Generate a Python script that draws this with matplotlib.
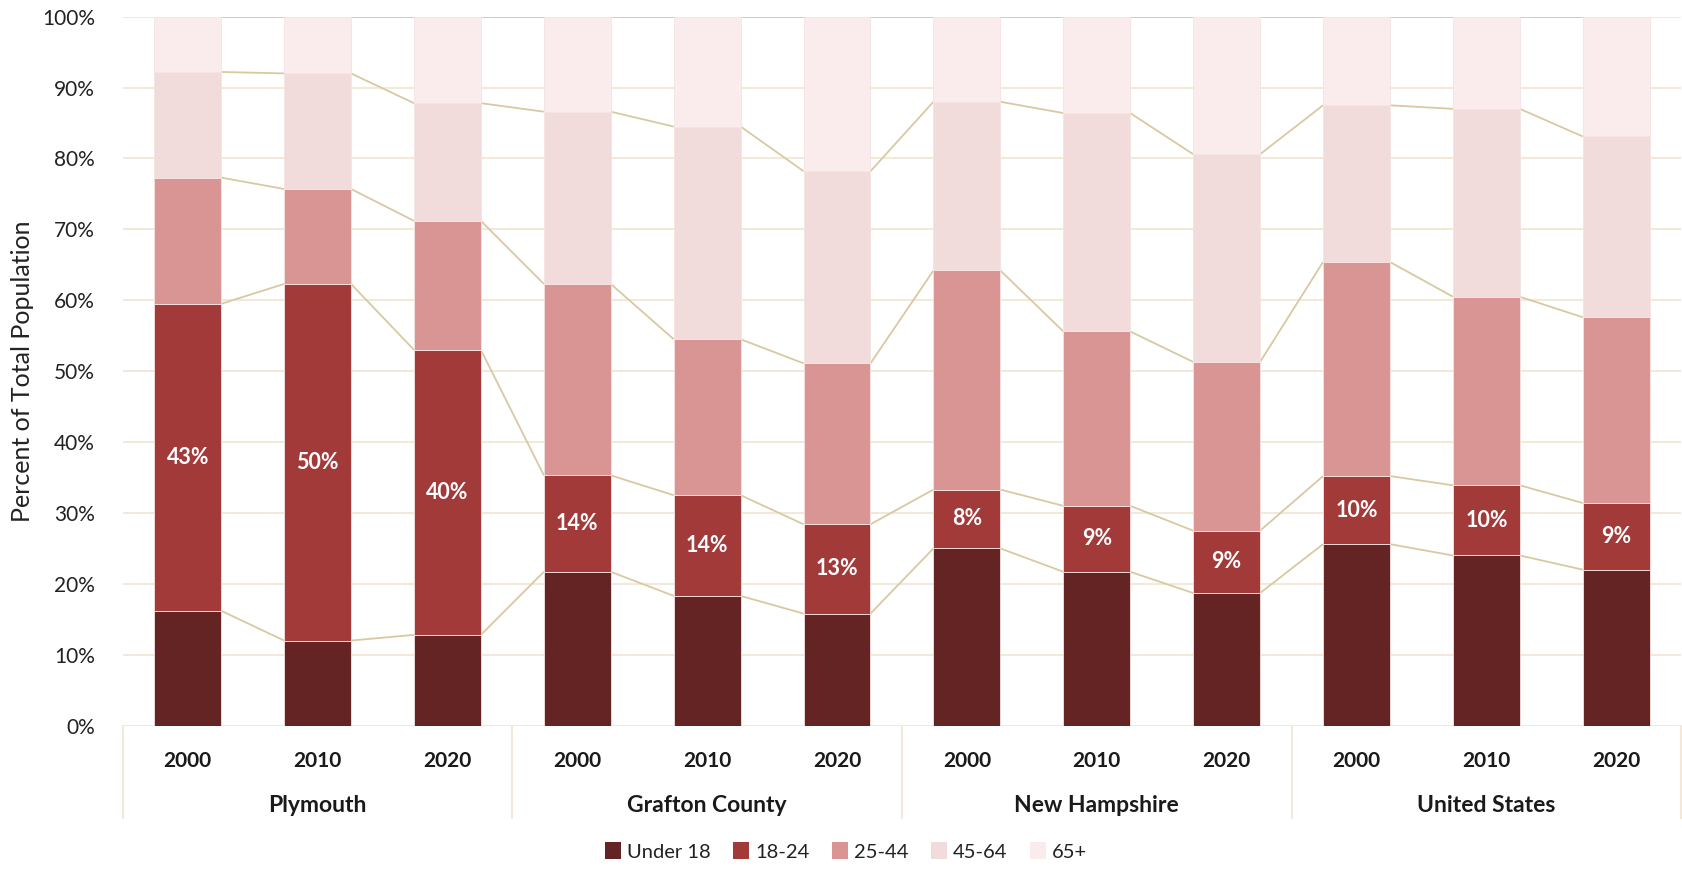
import matplotlib
matplotlib.use("Agg")
import matplotlib.pyplot as plt
import matplotlib.transforms as mtransforms
from matplotlib.ticker import PercentFormatter
from matplotlib.patches import Patch
import numpy as np

plt.rcParams['font.family'] = ['Lato', 'DejaVu Sans']

groups = ["Plymouth", "Grafton County", "New Hampshire", "United States"]
years = ["2000", "2010", "2020"]
series_names = ["Under 18", "18-24", "25-44", "45-64", "65+"]

under18 = [16.2, 12.0, 12.8, 21.7, 18.3, 15.8, 25.0, 21.7, 18.7, 25.6, 24.0, 22.0]
age18_24 = [43.3, 50.3, 40.2, 13.6, 14.2, 12.6, 8.3, 9.3, 8.8, 9.6, 9.9, 9.4]
age25_44 = [17.8, 13.4, 18.2, 27.0, 22.0, 22.7, 30.9, 24.6, 23.8, 30.2, 26.6, 26.2]
age45_64 = [14.9, 16.3, 16.6, 24.3, 30.0, 27.1, 23.8, 30.8, 29.3, 22.1, 26.5, 25.5]
age65 = [7.8, 8.0, 12.2, 13.4, 15.5, 21.8, 12.0, 13.6, 19.4, 12.5, 13.0, 16.9]
labels_18_24 = ["43%", "50%", "40%", "14%", "14%", "13%", "8%", "9%", "9%", "10%", "10%", "9%"]

colors = ["#632423", "#A23A3A", "#D99594", "#F2DCDB", "#FAEBEC"]
series = [under18, age18_24, age25_44, age45_64, age65]

fig = plt.figure(figsize=(16.82, 8.69), dpi=100)
ax = fig.add_axes([0.073, 0.165, 0.9265, 0.8158])

n = len(under18)
x = np.arange(n)
w = 0.515
bottom = np.zeros(n)
tops = []
for vals, c in zip(series, colors):
    vals = np.array(vals)
    ax.bar(x, vals, w, bottom=bottom, color=c, edgecolor="#F4E4E2", linewidth=0.6, zorder=3)
    bottom = bottom + vals
    tops.append(bottom.copy())

tops[-1] = np.full(n, 100.0)

line_col = "#D9C9A2"
for t in tops:
    for i in range(n - 1):
        ax.plot([x[i] + w / 2, x[i + 1] - w / 2], [t[i], t[i + 1]], color=line_col, lw=1.3, zorder=2, solid_capstyle="butt")

u = np.array(under18)
a = np.array(age18_24)
for i in range(n):
    ax.text(x[i], u[i] + a[i] / 2, labels_18_24[i], ha="center", va="center", color="white",
            fontsize=15.5, fontweight="bold", zorder=5)

ax.set_xlim(-0.5, n - 0.5)
ax.set_ylim(0, 100)
ax.set_yticks(np.arange(0, 101, 10))
ax.yaxis.set_major_formatter(PercentFormatter(decimals=0))
ax.tick_params(axis="y", length=0, labelsize=15, pad=20, labelcolor="#222222")
ax.grid(axis="y", color="#F2E9DA", lw=1.5, zorder=0)
ax.set_axisbelow(True)
for s in ax.spines.values():
    s.set_visible(False)

ax.set_xticks(x)
ax.set_xticklabels(years * len(groups), fontsize=15, fontweight="bold", color="#1a1a1a")
ax.tick_params(axis="x", length=0, pad=18)

trans = mtransforms.blended_transform_factory(ax.transData, ax.transAxes)
for g, name in enumerate(groups):
    ax.text(g * 3 + 1, -0.1125, name, transform=trans, ha="center", va="center",
            fontsize=16.5, fontweight="bold", color="#1a1a1a")
for k in range(len(groups) + 1):
    xx = k * 3 - 0.5
    ax.plot([xx, xx], [0, -0.13], transform=trans, color="#F2E9DA", lw=1.5, clip_on=False)

ax.set_ylabel("Percent of Total Population", fontsize=18, color="#222222", labelpad=6)

handles = [Patch(facecolor=c, edgecolor="none") for c in colors]
fig.legend(handles, series_names, loc="center", bbox_to_anchor=(0.503, 0.02), ncol=5,
           frameon=False, fontsize=14.5, handlelength=0.8, handleheight=0.9,
           handletextpad=0.3, columnspacing=1.1, labelcolor="#222222")

fig.savefig("out.png", dpi=100)
